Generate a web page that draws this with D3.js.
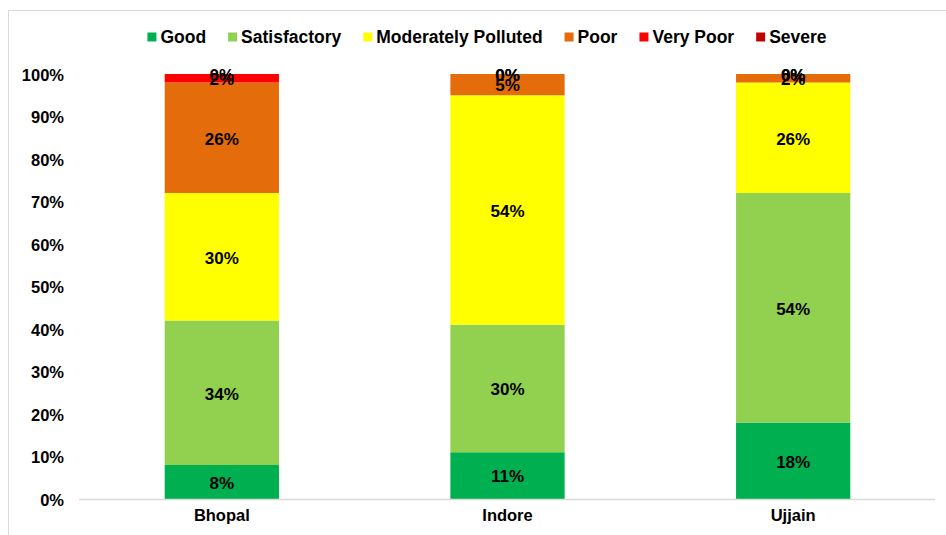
<!DOCTYPE html>
<html lang="en">
<head>
    <meta charset="UTF-8">
    <title>AQI category share by city</title>
    <style>
        body { margin: 0; background: #fff; }
        svg { display: block; font-family: "Liberation Sans", Arial, sans-serif; font-weight: bold; }
    </style>
</head>
<body>
    <svg width="946" height="535"></svg>
    <script src="https://d3js.org/d3.v7.min.js"></script>
    <script>
        const cities = ['Bhopal', 'Indore', 'Ujjain']
        const categories = ['Good', 'Satisfactory', 'Moderately Polluted', 'Poor', 'Very Poor', 'Severe']
        const colors = ['#00B050', '#92D050', '#FFFF00', '#E46C0A', '#FF0000', '#C00000']

        // percent of days per category, one array per city
        const bhopal = [8, 34, 30, 26, 2, 0]
        const indore = [11, 30, 54, 5, 0, 0]
        const ujjain = [18, 54, 26, 2, 0, 0]
        const yTicks = [0, 10, 20, 30, 40, 50, 60, 70, 80, 90, 100]

        const values = [bhopal, indore, ujjain]
        const rows = cities.map((c, i) => {
            const r = { city: c }
            categories.forEach((k, j) => r[k] = values[i][j])
            return r
        })

        const svg = d3.select('svg')

        // outer chart border (runs off the right and bottom edge)
        svg.append('rect')
            .attr('x', 8.5).attr('y', 10.5)
            .attr('width', 1000).attr('height', 1000)
            .attr('fill', 'none').attr('stroke', '#d9d9d9')

        const x = d3.scaleBand()
            .domain(cities)
            .range([79, 936])
            .paddingInner(0.6)
            .paddingOuter(0.3)

        const y = d3.scaleLinear()
            .domain([0, 100])
            .range([499, 74])

        const stack = d3.stack().keys(categories)(rows)

        const groups = svg.append('g').selectAll('g')
            .data(stack).enter()
            .append('g')
                .attr('fill', (d, i) => colors[i])

        groups.selectAll('rect')
            .data(d => d).enter()
            .append('rect')
                .attr('x', d => x(d.data.city))
                .attr('width', x.bandwidth())
                .attr('y', d => y(d[1]))
                .attr('height', d => y(d[0]) - y(d[1]))

        // baseline
        svg.append('line')
            .attr('x1', 79).attr('x2', 935)
            .attr('y1', y(0) + 0.5).attr('y2', y(0) + 0.5)
            .attr('stroke', '#d9d9d9').attr('stroke-width', 1.5)

        // y axis labels
        const yAxis = d3.axisLeft(y)
            .tickValues(yTicks)
            .tickFormat(d => d + '%')
            .tickSize(0)
            .tickPadding(0)
        svg.append('g')
            .attr('transform', 'translate(64,1)')
            .call(yAxis)
            .call(g => g.select('.domain').remove())
            .selectAll('text')
                .attr('font-family', '"Liberation Sans", Arial, sans-serif')
                .attr('font-weight', 'bold')
                .attr('font-size', 16.5)
                .attr('fill', '#000')

        // x axis labels
        const xAxis = d3.axisBottom(x).tickSize(0).tickPadding(0)
        svg.append('g')
            .attr('transform', 'translate(0,509)')
            .call(xAxis)
            .call(g => g.select('.domain').remove())
            .selectAll('text')
                .attr('font-family', '"Liberation Sans", Arial, sans-serif')
                .attr('font-weight', 'bold')
                .attr('font-size', 16.5)
                .attr('fill', '#000')

        // data labels
        groups.selectAll('text')
            .data(d => d).enter()
            .append('text')
                .attr('x', d => x(d.data.city) + x.bandwidth() / 2)
                .attr('y', d => y((d[0] + d[1]) / 2))
                .attr('dy', '0.4em')
                .attr('text-anchor', 'middle')
                .attr('font-size', 17)
                .attr('fill', '#000')
                .text(d => Math.round(d[1] - d[0]) + '%')

        // legend
        const legend = svg.append('g')
        const gap = 22
        let lx = 0
        categories.forEach((c, i) => {
            const item = legend.append('g')
            item.append('rect')
                .attr('x', lx).attr('y', -4.5)
                .attr('width', 9).attr('height', 9)
                .attr('fill', colors[i])
            const t = item.append('text')
                .attr('x', lx + 13)
                .attr('dy', '0.35em')
                .attr('font-size', 17.5)
                .attr('fill', '#000')
                .text(c)
            lx += 13 + t.node().getComputedTextLength() + gap
        })
        const legendWidth = lx - gap
        legend.attr('transform', `translate(${487 - legendWidth / 2},37)`)
    </script>
</body>
</html>
